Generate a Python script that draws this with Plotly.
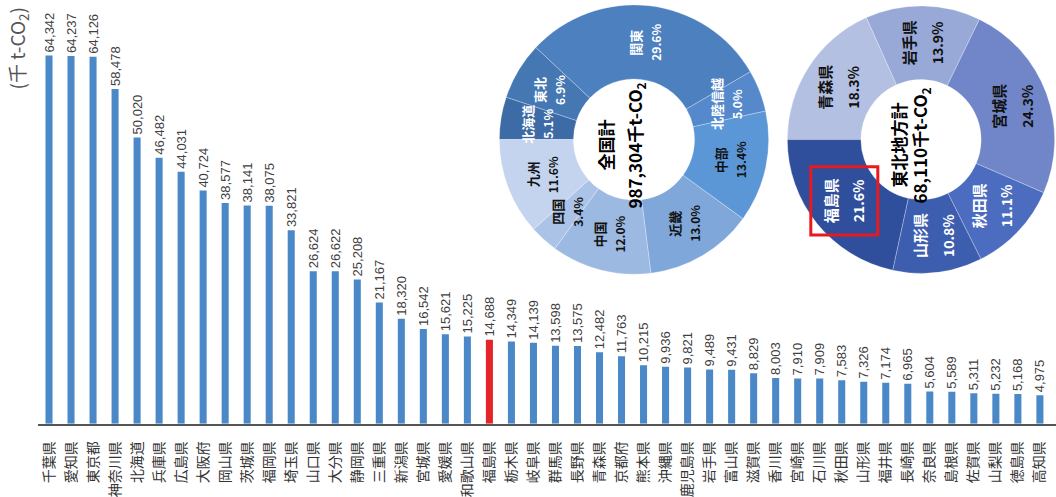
import math
import plotly.graph_objects as go

# Prefectural CO2 emissions (thousand t-CO2), sorted descending
prefectures = [
    "千葉県", "愛知県", "東京都", "神奈川県", "北海道", "兵庫県", "広島県", "大阪府",
    "岡山県", "茨城県", "福岡県", "埼玉県", "山口県", "大分県", "静岡県", "三重県",
    "新潟県", "宮城県", "愛媛県", "和歌山県", "福島県", "栃木県", "岐阜県", "群馬県",
    "長野県", "青森県", "京都府", "熊本県", "沖縄県", "鹿児島県", "岩手県", "富山県",
    "滋賀県", "香川県", "宮崎県", "石川県", "秋田県", "山形県", "福井県", "長崎県",
    "奈良県", "島根県", "佐賀県", "山梨県", "徳島県", "高知県",
]
emissions = [
    64342, 64237, 64126, 58478, 50020, 46482, 44031, 40724,
    38577, 38141, 38075, 33821, 26624, 26622, 25208, 21167,
    18320, 16542, 15621, 15225, 14688, 14349, 14139, 13598,
    13575, 12482, 11763, 10215, 9936, 9821, 9489, 9431,
    8829, 8003, 7910, 7909, 7583, 7326, 7174, 6965,
    5604, 5589, 5311, 5232, 5168, 4975,
]
highlight = "福島県"

# National breakdown by region (%)
regions = ["北海道", "東北", "関東", "北陸信越", "中部", "近畿", "中国", "四国", "九州"]
region_share = [5.1, 6.9, 29.6, 5.0, 13.4, 13.0, 12.0, 3.4, 11.6]
national_total = "987,304"

# Tohoku breakdown by prefecture
tohoku = ["青森県", "岩手県", "宮城県", "秋田県", "山形県", "福島県"]
tohoku_total = "68,110"

W, H = 1056, 497
BLUE, RED = "#4a88c7", "#e4232b"
JP = "Noto Sans CJK JP"

region_colors = ["#3c6ba5", "#4577b3", "#4d80bf", "#5689cb", "#5b97d6",
                 "#80a7da", "#9cb9e2", "#aac3e7", "#c4d4ee"]
region_text = ["white"] * 4 + ["#111"] * 5
tohoku_colors = ["#b3c0e2", "#98a9d8", "#7186c9", "#4c6cc0", "#3d5dae", "#2f4f9c"]
tohoku_text = ["#111", "#111", "#111", "white", "white", "white"]

tohoku_vals = [emissions[prefectures.index(p)] for p in tohoku]
tohoku_sum = sum(tohoku_vals)
tohoku_share = [round(v / tohoku_sum * 100, 1) for v in tohoku_vals]

bar_colors = [RED if p == highlight else BLUE for p in prefectures]

fig = go.Figure()
fig.add_trace(go.Bar(
    x=prefectures, y=emissions,
    marker=dict(color=bar_colors, line=dict(width=0)),
    width=0.32,
    texttemplate="%{y:,}", textposition="outside", textangle=-90,
    constraintext="none", cliponaxis=False,
    textfont=dict(family="Liberation Sans", size=13, color="#404040"),
    showlegend=False,
))


def px_x(x):
    return x / W


def px_y(y):
    return 1 - y / H


annotations = []
shapes = []


def note(x, y, text, size, color):
    annotations.append(dict(
        x=px_x(x), y=px_y(y), xref="paper", yref="paper",
        xanchor="center", yanchor="middle",
        text=text, showarrow=False, textangle=-90,
        font=dict(family=JP, size=size, color=color),
    ))


def add_donut(labels, shares, colors, text_colors, cx, cy, r, hole,
              title, total, title_dx, total_dx, label_size, label_gap, boxed=None):
    fig.add_trace(go.Pie(
        labels=labels, values=shares, hole=hole, sort=False,
        direction="clockwise", rotation=270,
        marker=dict(colors=colors, line=dict(color="rgba(255,255,255,0.35)", width=0.8)),
        textinfo="none", showlegend=False,
        domain=dict(x=[px_x(cx - r), min(px_x(cx + r), 1.0)],
                    y=[px_y(cy + r), px_y(cy - r)]),
    ))
    total_share = sum(shares)
    start = 270.0
    rl = r * (1 + hole) / 2
    for lab, s, tc in zip(labels, shares, text_colors):
        mid = math.radians(start + s / total_share * 180.0)
        start += s / total_share * 360.0
        lx = cx + rl * math.sin(mid)
        ly = cy - rl * math.cos(mid)
        # rotated text: the name sits to the left of its percentage
        note(lx - label_gap / 2, ly, f"<b>{lab}</b>", label_size, tc)
        note(lx + label_gap / 2, ly, f"<b>{s:.1f}%</b>", label_size - 1, tc)
        if lab == boxed:
            shapes.append(dict(
                type="rect", xref="paper", yref="paper",
                x0=px_x(lx - 34), x1=px_x(lx + 33), y0=px_y(ly + 35), y1=px_y(ly - 34),
                line=dict(color="#e8191f", width=3),
            ))
    note(cx + title_dx, cy + 6, f"<b>{title}</b>", 17, "#000")
    note(cx + total_dx, cy + 6, f"<b>{total}千t-CO<sub>2</sub></b>", 17, "#000")


add_donut(regions, region_share, region_colors, region_text,
          634, 141, 136, 0.45, "全国計", national_total, -28, 2, 13, 20)
add_donut(tohoku, tohoku_share, tohoku_colors, tohoku_text,
          921, 141, 135, 0.45, "東北地方計", tohoku_total, -22, 0, 15, 28,
          boxed=highlight)

note(18, 49, "(千 t-CO<sub>2</sub>)", 19, "#555")

fig.update_layout(
    width=W, height=H,
    margin=dict(l=0, r=0, t=0, b=0),
    paper_bgcolor="white", plot_bgcolor="white",
    xaxis=dict(
        domain=[38 / W, 1], range=[-0.5, -0.5 + 1018 / 22.02],
        type="category", tickangle=-90, ticklabelstandoff=10,
        tickfont=dict(family=JP, size=14, color="#333"),
        showline=True, linecolor="#555", linewidth=2,
        showgrid=False, zeroline=False, ticks="",
    ),
    yaxis=dict(
        domain=[69 / H, 1], range=[0, 74030],
        showticklabels=False, showgrid=False, zeroline=False, showline=False,
    ),
    annotations=annotations,
    shapes=shapes,
)

fig.write_html("out.html")
